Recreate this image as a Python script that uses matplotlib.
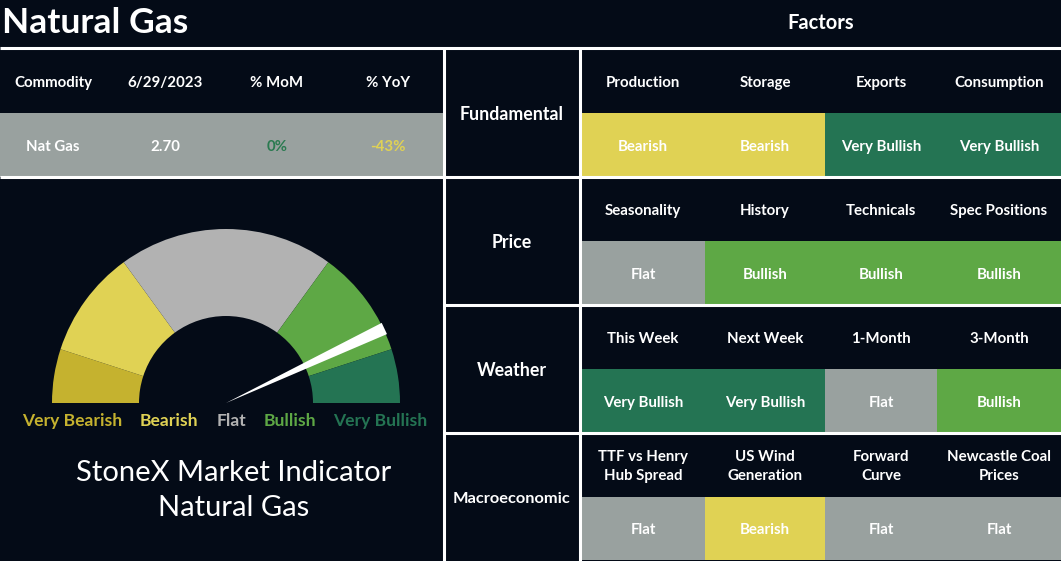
import matplotlib
matplotlib.use("Agg")
import matplotlib.pyplot as plt
from matplotlib.patches import Rectangle, Wedge, Polygon
import numpy as np

# ---------------- data ----------------
title = "Natural Gas"
panel_title = "Factors"
summary_headers = ["Commodity", "6/29/2023", "% MoM", "% YoY"]
summary_values = ["Nat Gas", "2.70", "0%", "-43%"]
groups = ["Fundamental", "Price", "Weather", "Macroeconomic"]
factors = [
    ["Production", "Storage", "Exports", "Consumption"],
    ["Seasonality", "History", "Technicals", "Spec Positions"],
    ["This Week", "Next Week", "1-Month", "3-Month"],
    ["TTF vs Henry\nHub Spread", "US Wind\nGeneration", "Forward\nCurve", "Newcastle Coal\nPrices"],
]
ratings = [
    ["Bearish", "Bearish", "Very Bullish", "Very Bullish"],
    ["Flat", "Bullish", "Bullish", "Bullish"],
    ["Very Bullish", "Very Bullish", "Flat", "Bullish"],
    ["Flat", "Bearish", "Flat", "Flat"],
]
gauge_levels = ["Very Bearish", "Bearish", "Flat", "Bullish", "Very Bullish"]
gauge_shares = [10, 20, 40, 20, 10]
needle_value = 86
gauge_caption = "StoneX Market Indicator\nNatural Gas"

# ---------------- style ----------------
BG = "#040b17"
WHITE = "#ffffff"
cell_colors = {"Very Bearish": "#c5b22f", "Bearish": "#e0d254", "Flat": "#99a19f",
               "Bullish": "#5ea845", "Very Bullish": "#247453"}
gauge_colors = {"Very Bearish": "#c5b22f", "Bearish": "#e0d254", "Flat": "#b2b2b2",
                "Bullish": "#5ea845", "Very Bullish": "#247453"}
value_colors = [WHITE, WHITE, "#2a7a50", "#e0d254"]
FONT = ["Lato", "DejaVu Sans"]
plt.rcParams["font.family"] = FONT

W, H = 1061, 561
fig = plt.figure(figsize=(W / 100, H / 100), dpi=100, facecolor=BG)
ax = fig.add_axes([0, 0, 1, 1])
ax.set_xlim(0, W)
ax.set_ylim(H, 0)
ax.set_facecolor(BG)
ax.axis("off")

LW = 2.2
DY = 1.5

def txt(x, y, s, size, color=WHITE, weight="bold", ha="center", va="center", ls=1.25):
    ax.text(x, y + DY, s, fontsize=size, color=color, fontweight=weight,
            ha=ha, va=va, linespacing=ls, multialignment="center")

# titles
txt(2, 21, title, 25.5, ha="left")
txt(821, 21, panel_title, 14.5)

# left summary table
ax.add_patch(Rectangle((0, 113), 443, 64, facecolor=cell_colors["Flat"], edgecolor="none"))
sum_x = [53, 165, 277, 388]
for x, h, v, c in zip(sum_x, summary_headers, summary_values, value_colors):
    txt(x, 81, h, 10.8)
    txt(x, 145, v, 10.8, color=c)

# right factor table
col_edges = [581, 705, 825, 937, 1061]
row_h = 128
for i, g in enumerate(groups):
    top = 48 + row_h * i
    txt(512, top + 65, g, 12.8 if len(g) < 12 else 11.8)
    for j in range(4):
        x0, x1 = col_edges[j], col_edges[j + 1]
        ax.add_patch(Rectangle((x0, top + 65), x1 - x0, row_h - 65,
                               facecolor=cell_colors[ratings[i][j]], edgecolor="none"))
        txt((x0 + x1) / 2, top + 33, factors[i][j], 10.8, ls=1.5)
        txt((x0 + x1) / 2, top + 97, ratings[i][j], 10.8)

# grid lines
ax.plot([0, W], [48, 48], color=WHITE, lw=LW, solid_capstyle="butt")
ax.plot([0, 443], [177, 177], color=WHITE, lw=LW, solid_capstyle="butt")
for y in [177, 305, 433]:
    ax.plot([444, W], [y, y], color=WHITE, lw=LW, solid_capstyle="butt")
for x in [443.5, 580]:
    ax.plot([x, x], [48, H], color=WHITE, lw=LW, solid_capstyle="butt")

# gauge
cx, cy, r_out, r_w = 226, 403, 174, 87
total = sum(gauge_shares)
start = 0.0
for lvl, share in zip(gauge_levels, gauge_shares):
    a1 = 180 - start / total * 180          # visual start angle
    a2 = 180 - (start + share) / total * 180
    # y axis inverted: visual angle a -> data angle -a
    ax.add_patch(Wedge((cx, cy), r_out, -a1, -a2, width=r_w,
                       facecolor=gauge_colors[lvl], edgecolor="none"))
    start += share

theta = np.deg2rad(180 - needle_value / total * 180)
r_n, half_w = 175, 6.2
tip = np.array([cx + r_n * np.cos(theta), cy - r_n * np.sin(theta)])
perp = np.array([np.sin(theta), np.cos(theta)])
ax.add_patch(Polygon([(cx, cy), tip + perp * half_w, tip - perp * half_w],
                     closed=True, facecolor=WHITE, edgecolor="none"))

label_x = [72, 169, 232, 290, 380]
for x, lvl in zip(label_x, gauge_levels):
    txt(x, 419, lvl, 12.6, color=gauge_colors[lvl])

txt(234, 489, gauge_caption, 21, weight="normal", ls=1.42)

fig.savefig("out.png", dpi=100, facecolor=BG)
